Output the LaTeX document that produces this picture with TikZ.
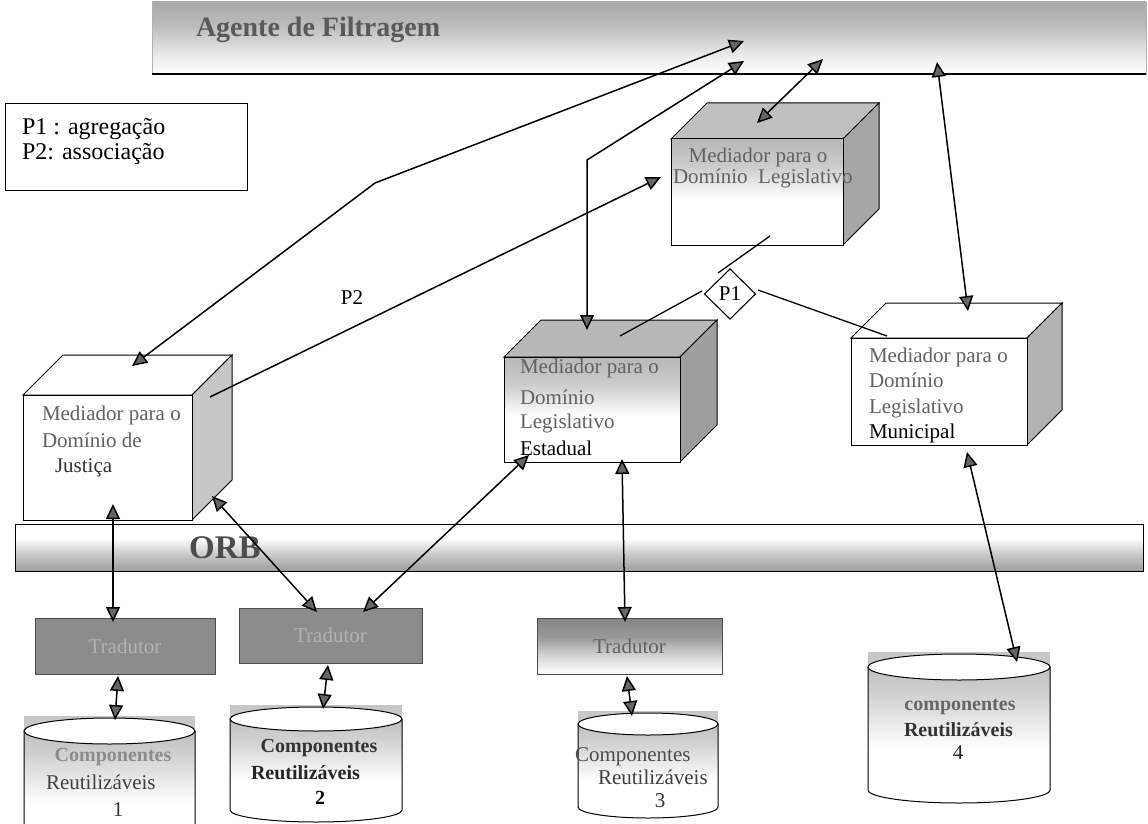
\documentclass[tikz,border=0pt]{standalone}
\usepackage{fontspec}
\setmainfont{Liberation Serif}
\usetikzlibrary{arrows.meta,shapes.geometric}

% vertical shadings (the shaded path spans 25bp..75bp)
\pgfdeclareverticalshading{barshade}{100bp}{color(0bp)=(white); color(25bp)=(white); color(38bp)=(black!8); color(58bp)=(black!26); color(75bp)=(black!34); color(100bp)=(black!34)}
\pgfdeclareverticalshading{orbshade}{100bp}{color(0bp)=(black!38); color(25bp)=(black!38); color(42bp)=(black!22); color(60bp)=(white); color(100bp)=(white)}
\pgfdeclareverticalshading{frontshade}{100bp}{color(0bp)=(white); color(47bp)=(white); color(62bp)=(black!20); color(75bp)=(black!28); color(100bp)=(black!28)}
\pgfdeclareverticalshading{trshade}{100bp}{color(0bp)=(white); color(25bp)=(white); color(40bp)=(black!15); color(58bp)=(black!40); color(75bp)=(black!48); color(100bp)=(black!48)}
\pgfdeclareverticalshading{cylshade}{100bp}{color(0bp)=(white); color(45bp)=(white); color(65bp)=(black!18); color(75bp)=(black!25); color(100bp)=(black!25)}

% 3D mediator box: x0 y0 x1 y1 depth topstyle sidestyle name frontstyle
\newcommand{\medbox}[9]{%
  \path[draw=black, line width=1pt, #6] (#1,#2) -- (#1+#5,#2-#5) -- (#3+#5,#2-#5) -- (#3,#2) -- cycle;
  \path[draw=black, line width=1pt, #7] (#3,#2) -- (#3+#5,#2-#5) -- (#3+#5,#4-#5) -- (#3,#4) -- cycle;
  \node[draw=black, line width=1pt, anchor=north west,
        minimum width={(#3-#1)*1pt}, minimum height={(#4-#2)*1pt}, #9] (#8) at (#1,#2) {};
}

% cylinder: x0 x1 ytop ybottom ry name
\newcommand{\cyl}[6]{%
  \fill[black!22] (#1,#3-#5-2) rectangle (#2,#3);
  \path[shading=cylshade] (#1,#3) -- (#1,#4) arc[start angle=180, end angle=0, x radius={(#2-#1)/2}, y radius=#5] -- (#2,#3) -- cycle;
  \draw[line width=1pt] (#1,#3) -- (#1,#4) arc[start angle=180, end angle=0, x radius={(#2-#1)/2}, y radius=#5] -- (#2,#3);
  \node[draw, line width=1pt, ellipse, fill=white, minimum width={(#2-#1)*1pt},
        minimum height={2*#5*1pt}] (#6) at ({(#1+#2)/2},#3) {};
}

\begin{document}
\begin{tikzpicture}[x=1pt, y=-1pt,
  every node/.style={inner sep=0pt, outer sep=0pt},
  boxtxt/.style={anchor=west, font=\fontsize{21}{24}\selectfont, text=black!62},
  boxtxtdark/.style={anchor=west, font=\fontsize{21}{24}\selectfont, text=black},
  cyltxt/.style={font=\fontsize{21}{24}\selectfont},
  cylbold/.style={font=\bfseries\fontsize{20}{24}\selectfont},
  harrow/.style={line width=1.5pt, draw=black,
    {Triangle[length=15pt, width=14pt, fill=black!60]}-{Triangle[length=15pt, width=14pt, fill=black!60]}},
  sarrow/.style={line width=1.5pt, draw=black, -{Triangle[length=15pt, width=14pt, fill=black!60]}},
  link/.style={line width=1.3pt, draw=black},
  trbox/.style={draw=black!70, line width=0.6pt, anchor=north west, font=\fontsize{21}{24}\selectfont}
]
\useasboundingbox (0,0) rectangle (1148,824);
\fill[white] (0,0) rectangle (1148,824);

% ---- filtering agent bar
\node[shading=barshade, draw=black!30, line width=0.5pt, anchor=north west,
      minimum width=994pt, minimum height=72pt] (agent) at (152,2) {};
\draw[line width=1.2pt] (agent.south west) -- (agent.south east);
\node[anchor=west, font=\bfseries\fontsize{28}{30}\selectfont, text=black!65] (agenttxt) at (196,30) {Agente de Filtragem};

% ---- legend
\node[draw, line width=0.8pt, anchor=north west, minimum width=242pt, minimum height=87pt] (legend) at (5,103) {};
\node[anchor=base west, font=\fontsize{24}{26}\selectfont] (lg1) at (22,135) {P1 : agregação};
\node[anchor=base west, font=\fontsize{24}{26}\selectfont] (lg2) at (22,160) {P2: associação};

% ---- ORB bar
\node[shading=orbshade, draw=black, line width=1pt, anchor=north west,
      minimum width=1128pt, minimum height=47pt] (orb) at (15,524) {};
\node[font=\bfseries\fontsize{33}{35}\selectfont, text=black!70] (orbtxt) at (225,548) {ORB};

% ---- mediators
\medbox{23}{395}{192}{520}{40}{fill=white}{fill=black!22}{jus}{fill=white}
\node[boxtxt] (jus1) at (42,415) {Mediador para o};
\node[boxtxt] (jus2) at (42,440) {Domínio de};
\node[boxtxt, text=black!80] (jus3) at (55,468) {Justiça};

\medbox{671}{139}{843}{245}{36}{fill=black!25}{fill=black!35}{leg}{shading=frontshade}
\node[font=\fontsize{21}{24}\selectfont, text=black!62] (leg1) at (758,157) {Mediador para o};
\node[anchor=west, font=\fontsize{21}{24}\selectfont, text=black!62] (leg2) at (673,178) {Domínio\ \ Legislativo};

\medbox{504}{357}{680}{462}{37}{fill=black!28}{fill=black!38}{est}{shading=frontshade}
\node[boxtxt] (est1) at (520,368) {Mediador para o};
\node[boxtxt] (est2) at (520,397) {Domínio};
\node[boxtxt] (est3) at (520,423) {Legislativo};
\node[boxtxtdark] (est4) at (520,448) {Estadual};

\medbox{851}{338}{1027}{445}{35}{fill=white}{fill=black!30}{mun}{fill=white}
\node[boxtxt] (mun1) at (869,357) {Mediador para o};
\node[boxtxt] (mun2) at (869,380) {Domínio};
\node[boxtxt] (mun3) at (869,408) {Legislativo};
\node[boxtxtdark] (mun4) at (869,433) {Municipal};

% ---- translators
\node[trbox, fill=black!45, text=black!30, minimum width=180pt, minimum height=56pt] (t1) at (35,618) {Tradutor};
\node[trbox, fill=black!45, text=black!30, minimum width=183pt, minimum height=55pt] (t2) at (239,608) {Tradutor};
\node[trbox, shading=trshade, text=black!62, minimum width=185pt, minimum height=56pt] (t3) at (537,618) {Tradutor};

% ---- component repositories
\cyl{24}{195}{731}{838}{13}{c1}
\node[cylbold, text=black!45] (c1a) at (113,757) {Componentes};
\node[cyltxt, anchor=west, text=black!75] (c1b) at (46,782) {Reutilizáveis};
\node[cyltxt, text=black!80] (c1c) at (118,810) {1};

\cyl{230}{402}{719}{810}{12}{c2}
\node[cylbold, text=black!80] (c2a) at (319,748) {Componentes};
\node[cylbold, anchor=west, text=black!85] (c2b) at (251,773) {Reutilizáveis};
\node[cylbold] (c2c) at (320,798) {2};

\cyl{578}{718}{724}{807}{11}{c3}
\node[cyltxt, anchor=west, text=black!70] (c3a) at (575,757) {Componentes};
\node[cyltxt, anchor=west, text=black!75] (c3b) at (598,777) {Reutilizáveis};
\node[cyltxt, text=black!80] (c3c) at (660,801) {3};

\cyl{868}{1050}{667}{790}{13}{c4}
\node[cylbold, text=black!60] (c4a) at (960,707) {componentes};
\node[cylbold, anchor=west, text=black!80] (c4b) at (904,730) {Reutilizáveis};
\node[cyltxt, text=black!85] (c4c) at (958,753) {4};

% ---- aggregation diamond
\node[diamond, draw, line width=1.1pt, fill=white, aspect=1, minimum width=51pt, minimum height=50pt,
      font=\fontsize{21}{24}\selectfont] (p1) at (730,294) {P1};
\coordinate (legBot) at (770,236);
\coordinate (p1ul) at (718,273);
\coordinate (p1l) at (702,291);
\coordinate (p1r) at (758,290);
\coordinate (estAgg) at (620,336);
\coordinate (munAgg) at (887,336);
\draw[link] (legBot) -- (p1ul);
\draw[link] (p1l) -- (estAgg);
\draw[link] (p1r) -- (munAgg);

% ---- association P2
\coordinate (jusSide) at (210,397);
\coordinate (legLeft) at (661,177);
\draw[sarrow] (jusSide) -- (legLeft);
\node[font=\fontsize{21}{24}\selectfont] (p2) at (352,298) {P2};

% ---- links to the filtering agent
\coordinate (ag1) at (744,41);
\coordinate (ag2) at (744,61);
\coordinate (ag3) at (823,59);
\coordinate (ag4) at (937,62);
\coordinate (bend1) at (375,183);
\coordinate (bend2) at (587,160);
\coordinate (jusTop) at (132,366);
\coordinate (estTop) at (587,330);
\coordinate (legTop) at (757,123);
\coordinate (munTop) at (968,311);
\draw[harrow] (jusTop) -- (bend1) -- (ag1);
\draw[harrow] (estTop) -- (bend2) -- (ag2);
\draw[harrow] (legTop) -- (ag3);
\draw[harrow] (munTop) -- (ag4);

% ---- links through the ORB
\coordinate (jusBot) at (113,504);
\coordinate (t1Top) at (113,622);
\coordinate (jusBR) at (212,496);
\coordinate (t2TopL) at (317,612);
\coordinate (estBL) at (529,455);
\coordinate (t2TopR) at (363,612);
\coordinate (estBot) at (622,459);
\coordinate (t3Top) at (625,622);
\coordinate (munBot) at (967,452);
\coordinate (c4Top) at (1017,662);
\draw[harrow] (jusBot) -- (t1Top);
\draw[harrow] (jusBR) -- (t2TopL);
\draw[harrow] (estBL) -- (t2TopR);
\draw[harrow] (estBot) -- (t3Top);
\draw[harrow] (munBot) -- (c4Top);

% ---- translators to repositories
\coordinate (t1Bot) at (118,676);
\coordinate (c1Top) at (115,720);
\coordinate (t2Bot) at (328,665);
\coordinate (c2Top) at (323,709);
\coordinate (t3Bot) at (627,676);
\coordinate (c3Top) at (632,716);
\draw[harrow] (t1Bot) -- (c1Top);
\draw[harrow] (t2Bot) -- (c2Top);
\draw[harrow] (t3Bot) -- (c3Top);
\end{tikzpicture}
\end{document}
